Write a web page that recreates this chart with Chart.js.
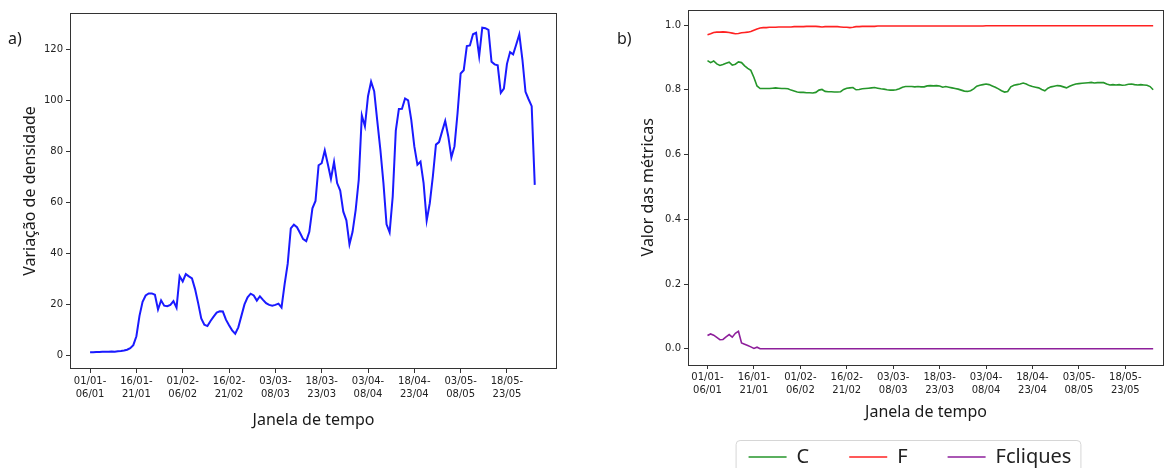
<!DOCTYPE html>
<html>
<head>
<meta charset="utf-8">
<script src="https://cdn.jsdelivr.net/npm/chart.js@4"></script>
<style>
  body { margin: 0; background: #fff; width: 1167px; height: 468px; position: relative; overflow: hidden; }
  #wrapA { position: absolute; left: 0; top: 0; width: 580px; height: 468px; }
  #wrapB { position: absolute; left: 600px; top: 0; width: 567px; height: 468px; }
  .tag { position: absolute; font-family: "Noto Sans"; font-size: 16px; color: #1a1a1a; }
</style>
</head>
<body>
<div id="wrapA"><canvas id="chartA"></canvas></div>
<div id="wrapB"><canvas id="chartB"></canvas></div>
<div class="tag" style="left:8px;top:27px">a)</div>
<div class="tag" style="left:617px;top:27px">b)</div>
<script>
// time-window ticks (every 15th window)
const tickIndex = [0, 15, 30, 45, 60, 75, 90, 105, 120, 135];
const tickStart = ["01/01-", "16/01-", "01/02-", "16/02-", "03/03-", "18/03-", "03/04-", "18/04-", "03/05-", "18/05-"];
const tickEnd = ["06/01", "21/01", "06/02", "21/02", "08/03", "23/03", "08/04", "23/04", "08/05", "23/05"];

const yTicksA = [0, 20, 40, 60, 80, 100, 120];
const yTicksB = [0, 0.2, 0.4, 0.6, 0.8, 1.0];

// a) variação de densidade
const densidade = [
  1.2, 1.2, 1.3, 1.3, 1.4, 1.4, 1.4, 1.5, 1.4, 1.6, 1.7, 1.9, 2.2, 2.8, 4.0,
  7.5, 15.5, 21, 23.5, 24.3, 24.3, 23.8, 18, 21.6, 19.5, 19.3, 19.8, 21.3, 18.7, 31.1,
  29, 31.9, 31, 30.2, 26, 20.5, 14.5, 12, 11.5, 13.5, 15.2, 16.8, 17.3, 17.2, 14,
  11.8, 9.8, 8.5, 11, 15.5, 20, 22.8, 24.2, 23.5, 21.5, 23.2, 21.8, 20.5, 19.8, 19.5,
  19.8, 20.3, 18.8, 28, 36, 49.8, 51.3, 50.3, 48, 45.6, 44.8, 48.5, 57.7, 60.6, 74.6,
  75.4, 80.4, 75, 69.3, 75.9, 67.6, 64.7, 56.4, 53, 43.6, 48.5, 57, 68.9, 94.2, 89.9,
  101.7, 107.4, 103.7, 92, 80.7, 67.6, 51.4, 48.3, 62.3, 88.2, 96.7, 96.8, 100.8, 100.1, 92.5,
  82, 74.8, 76, 67.6, 52.9, 59.7, 70.2, 82.7, 83.7, 87.9, 92, 85.9, 77.7, 82, 95.1,
  110.6, 111.9, 121.4, 121.6, 126, 126.6, 117.4, 128.6, 128.4, 127.7, 115.2, 114.2, 113.8, 103, 104.7,
  114.4, 119, 118.1, 122, 126, 116.1, 103.4, 100.5, 97.8, 66.9
];

// b) métricas
const metricC = [
  0.890, 0.884, 0.889, 0.880, 0.875, 0.878, 0.882, 0.885, 0.876, 0.879, 0.886, 0.884, 0.874, 0.866, 0.860,
  0.838, 0.812, 0.804, 0.804, 0.804, 0.804, 0.805, 0.806, 0.805, 0.804, 0.804, 0.803, 0.799, 0.796, 0.793,
  0.792, 0.792, 0.791, 0.791, 0.790, 0.792, 0.799, 0.801, 0.795, 0.794, 0.794, 0.793, 0.793, 0.794, 0.801,
  0.805, 0.806, 0.807, 0.800, 0.801, 0.803, 0.804, 0.805, 0.806, 0.807, 0.805, 0.803, 0.802, 0.800, 0.799,
  0.799, 0.800, 0.803, 0.808, 0.810, 0.810, 0.810, 0.809, 0.810, 0.809, 0.809, 0.812, 0.813, 0.812, 0.813,
  0.812, 0.808, 0.810, 0.808, 0.806, 0.804, 0.802, 0.799, 0.796, 0.795, 0.797, 0.803, 0.811, 0.814, 0.816,
  0.818, 0.816, 0.812, 0.808, 0.803, 0.797, 0.793, 0.795, 0.809, 0.814, 0.816, 0.818, 0.821, 0.818, 0.813,
  0.810, 0.808, 0.806, 0.801, 0.797, 0.805, 0.809, 0.811, 0.813, 0.812, 0.809, 0.806, 0.811, 0.815, 0.818,
  0.819, 0.820, 0.821, 0.822, 0.823, 0.821, 0.822, 0.822, 0.822, 0.818, 0.815, 0.816, 0.815, 0.816, 0.814,
  0.815, 0.817, 0.818, 0.816, 0.815, 0.816, 0.815, 0.814, 0.810, 0.800
];
const metricF = [
  0.970, 0.973, 0.977, 0.978, 0.978, 0.979, 0.978, 0.977, 0.975, 0.973, 0.974, 0.976, 0.977, 0.978, 0.980,
  0.984, 0.988, 0.991, 0.992, 0.992, 0.993, 0.993, 0.993, 0.994, 0.994, 0.994, 0.994, 0.994, 0.995, 0.995,
  0.995, 0.995, 0.996, 0.996, 0.996, 0.996, 0.995, 0.994, 0.995, 0.995, 0.995, 0.995, 0.995, 0.994, 0.993,
  0.993, 0.992, 0.993, 0.995, 0.995, 0.996, 0.996, 0.996, 0.996, 0.996, 0.997, 0.997, 0.997, 0.997, 0.997,
  0.997, 0.997, 0.997, 0.997, 0.997, 0.997, 0.997, 0.997, 0.997, 0.997, 0.997, 0.997, 0.997, 0.997, 0.997,
  0.997, 0.997, 0.997, 0.997, 0.997, 0.997, 0.997, 0.997, 0.997, 0.997, 0.997, 0.997, 0.997, 0.997, 0.997,
  0.998, 0.998, 0.998, 0.998, 0.998, 0.998, 0.998, 0.998, 0.998, 0.998, 0.998, 0.998, 0.998, 0.998, 0.998,
  0.998, 0.998, 0.998, 0.998, 0.998, 0.998, 0.998, 0.998, 0.998, 0.998, 0.998, 0.998, 0.998, 0.998, 0.998,
  0.998, 0.998, 0.998, 0.998, 0.998, 0.998, 0.998, 0.998, 0.998, 0.998, 0.998, 0.998, 0.998, 0.998, 0.998,
  0.998, 0.998, 0.998, 0.998, 0.998, 0.998, 0.998, 0.998, 0.998, 0.998
];
const metricFcliques = [
  0.041, 0.046, 0.042, 0.035, 0.028, 0.029, 0.037, 0.044, 0.036, 0.048, 0.054, 0.018, 0.014, 0.010, 0.006,
  0.001, 0.005, 0, 0, 0, 0, 0, 0, 0, 0, 0, 0, 0, 0, 0,
  0, 0, 0, 0, 0, 0, 0, 0, 0, 0, 0, 0, 0, 0, 0,
  0, 0, 0, 0, 0, 0, 0, 0, 0, 0, 0, 0, 0, 0, 0,
  0, 0, 0, 0, 0, 0, 0, 0, 0, 0, 0, 0, 0, 0, 0,
  0, 0, 0, 0, 0, 0, 0, 0, 0, 0, 0, 0, 0, 0, 0,
  0, 0, 0, 0, 0, 0, 0, 0, 0, 0, 0, 0, 0, 0, 0,
  0, 0, 0, 0, 0, 0, 0, 0, 0, 0, 0, 0, 0, 0, 0,
  0, 0, 0, 0, 0, 0, 0, 0, 0, 0, 0, 0, 0, 0, 0,
  0, 0, 0, 0, 0, 0, 0, 0, 0, 0
];

const windowIndex = densidade.map((v, i) => i);

const tickFont = { family: "DejaVu Sans", size: 10, lineHeight: 1.3 };
const titleFont = { family: "Noto Sans", size: 16 };
const axisColor = "#333";

// draws the full box around the plot area (matplotlib spines)
const frame = {
  id: "frame",
  afterDatasetsDraw(chart) {
    const { ctx, chartArea: a } = chart;
    ctx.save();
    ctx.strokeStyle = axisColor;
    ctx.lineWidth = 1;
    ctx.strokeRect(Math.round(a.left) + 0.5, Math.round(a.top) + 0.5,
      Math.round(a.width) - 1, Math.round(a.height) - 1);
    ctx.restore();
  }
};

// rounded border round the legend
const legendFrame = {
  id: "legendFrame",
  afterDraw(chart) {
    const boxes = chart.legend.legendHitBoxes;
    if (!boxes || !boxes.length) return;
    const ctx = chart.ctx;
    const left = Math.min(...boxes.map(b => b.left)) - 13;
    const right = Math.max(...boxes.map(b => b.left + b.width)) + 9;
    const top = boxes[0].top - 7;
    ctx.save();
    ctx.strokeStyle = "#d6d6d6";
    ctx.lineWidth = 1;
    ctx.beginPath();
    ctx.roundRect(left + 0.5, top + 0.5, right - left, 60, 4);
    ctx.stroke();
    ctx.restore();
  }
};

function xAxis(min, max, height, titlePad) {
  return {
    type: "linear",
    min: min,
    max: max,
    afterBuildTicks: s => { s.ticks = tickIndex.map(v => ({ value: v })); },
    afterFit: s => { s.height = height; },
    grid: { display: true, drawOnChartArea: false, drawTicks: true, tickLength: 4, color: axisColor },
    border: { display: false },
    ticks: {
      autoSkip: false,
      maxRotation: 0,
      padding: 2,
      color: "#222",
      font: tickFont,
      callback: v => {
        const k = tickIndex.indexOf(v);
        return k < 0 ? "" : [tickStart[k], tickEnd[k]];
      }
    },
    title: { display: true, text: "Janela de tempo", color: "#1a1a1a", font: titleFont, padding: { bottom: titlePad } }
  };
}

function yAxis(min, max, ticks, width, title, titlePad, fmt) {
  return {
    min: min,
    max: max,
    afterBuildTicks: s => { s.ticks = ticks.map(v => ({ value: v })); },
    afterFit: s => { s.width = width; },
    grid: { display: true, drawOnChartArea: false, drawTicks: true, tickLength: 4, color: axisColor },
    border: { display: false },
    ticks: { padding: 3, color: "#222", font: tickFont, callback: fmt },
    title: { display: true, text: title, color: "#1a1a1a", font: titleFont, padding: { top: titlePad } }
  };
}

new Chart(document.getElementById("chartA"), {
  type: "line",
  data: {
    labels: windowIndex,
    datasets: [{
      data: densidade,
      borderColor: "#1a1aff",
      borderWidth: 2,
      pointRadius: 0,
      tension: 0,
      fill: false
    }]
  },
  options: {
    responsive: true,
    maintainAspectRatio: false,
    animation: false,
    layout: { padding: { left: 0, top: 13, right: 23, bottom: 0 } },
    scales: {
      x: xAxis(-6.5, 151.2, 99, 38.4),
      y: yAxis(-5.35, 134.35, yTicksA, 70, "Variação de densidade", 20.4, v => String(v))
    },
    plugins: { legend: { display: false }, tooltip: { enabled: false } }
  },
  plugins: [frame]
});

new Chart(document.getElementById("chartB"), {
  type: "line",
  data: {
    labels: windowIndex,
    datasets: [
      { label: "C", data: metricC, borderColor: "#25962a", borderWidth: 1.6, pointRadius: 0, tension: 0, fill: false },
      { label: "F", data: metricF, borderColor: "#ff2222", borderWidth: 1.6, pointRadius: 0, tension: 0, fill: false },
      { label: "Fcliques", data: metricFcliques, borderColor: "#8e1f9b", borderWidth: 1.6, pointRadius: 0, tension: 0, fill: false }
    ]
  },
  options: {
    responsive: true,
    maintainAspectRatio: false,
    animation: false,
    layout: { padding: { left: 56, top: 9.5, right: 3, bottom: -9 } },
    scales: {
      x: xAxis(-6.3, 147.5, 42, -14.6),
      y: yAxis(-0.05, 1.048, yTicksB, 32, "Valor das métricas", -17.6, v => v.toFixed(1))
    },
    plugins: {
      legend: {
        position: "bottom",
        labels: {
          usePointStyle: true,
          pointStyle: "line",
          pointStyleWidth: 38,
          padding: 40,
          color: "#222",
          font: { family: "Noto Sans", size: 20 }
        }
      },
      tooltip: { enabled: false }
    }
  },
  plugins: [frame, legendFrame]
});
</script>
</body>
</html>
